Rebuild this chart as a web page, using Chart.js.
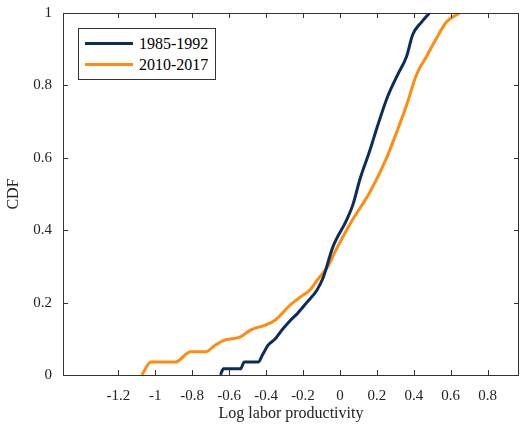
<!DOCTYPE html>
<html><head><meta charset="utf-8">
<script src="https://cdn.jsdelivr.net/npm/chart.js@4"></script>
<style>
body{margin:0;background:#fff}
#wrap{position:relative;width:520px;height:427px}
#legend{position:absolute;left:78px;top:28px;width:138px;height:52px;border:1px solid #333;background:#fff;font-family:"Liberation Serif",serif;font-size:16px;box-sizing:border-box;padding:4px 0 0 6px}
#legend div{display:flex;align-items:center;height:21px}
#legend span{display:inline-block;width:48px;height:3px;margin-right:6px}
</style></head>
<body><div id="wrap"><canvas id="c" width="520" height="427"></canvas>
<div id="legend"><div><span style="background:#0b2d5e"></span>1985-1992</div><div><span style="background:#ff8c0f"></span>2010-2017</div></div></div>
<script>
const oldX = [-0.647,-0.631,-0.539,-0.518,-0.442,-0.42,-0.388,-0.35,-0.313,-0.27,-0.23,-0.18,-0.124,-0.09,-0.038,0.038,0.07,0.108,0.162,0.205,0.259,0.313,0.361,0.394,0.442,0.485];
const oldY = [0,0.017,0.017,0.036,0.036,0.055,0.083,0.10,0.125,0.15,0.17,0.2,0.235,0.27,0.354,0.43,0.47,0.54,0.62,0.69,0.77,0.83,0.88,0.94,0.975,1.0];
const newX = [-1.073,-1.024,-0.89,-0.809,-0.728,-0.674,-0.62,-0.539,-0.485,-0.404,-0.35,-0.27,-0.216,-0.162,-0.119,-0.065,-0.027,0.07,0.162,0.253,0.307,0.361,0.415,0.469,0.523,0.577,0.647];
const newY = [0,0.036,0.036,0.064,0.064,0.083,0.097,0.105,0.124,0.138,0.152,0.193,0.215,0.235,0.265,0.30,0.34,0.43,0.505,0.60,0.67,0.745,0.83,0.88,0.93,0.975,1.0];
const xTicks = [-1.2,-1,-0.8,-0.6,-0.4,-0.2,0,0.2,0.4,0.6,0.8];
const yTicks = [0,0.2,0.4,0.6,0.8,1];

const font = {family:'"Liberation Serif", serif', size:15};
const frame = {
  id:'frame',
  afterDraw(chart){
    const {ctx, chartArea:a, scales:{x,y}} = chart;
    ctx.save();
    ctx.strokeStyle = '#333'; ctx.lineWidth = 1;
    ctx.strokeRect(a.left+0.5, a.top+0.5, a.right-a.left-1, a.bottom-a.top);
    ctx.beginPath();
    xTicks.forEach(v => { const p = Math.round(x.getPixelForValue(v))+0.5;
      ctx.moveTo(p,a.bottom); ctx.lineTo(p,a.bottom-5); ctx.moveTo(p,a.top); ctx.lineTo(p,a.top+5); });
    yTicks.forEach(v => { const p = Math.round(y.getPixelForValue(v))+0.5;
      ctx.moveTo(a.left,p); ctx.lineTo(a.left+5,p); ctx.moveTo(a.right,p); ctx.lineTo(a.right-5,p); });
    ctx.stroke(); ctx.restore();
  }
};
new Chart(document.getElementById('c'), {
  type:'scatter',
  data:{datasets:[
    {label:'1985-1992', data:oldX.map((v,i)=>({x:v,y:oldY[i]})), showLine:true, borderColor:'#0b2d5e', borderWidth:3, pointRadius:0, cubicInterpolationMode:'monotone'},
    {label:'2010-2017', data:newX.map((v,i)=>({x:v,y:newY[i]})), showLine:true, borderColor:'#ff8c0f', borderWidth:3, pointRadius:0, cubicInterpolationMode:'monotone'}
  ]},
  options:{
    responsive:false, animation:false,
    layout:{padding:{top:13,right:1,left:0,bottom:0}},
    plugins:{legend:{display:false}, tooltip:{enabled:false}},
    scales:{
      x:{min:-1.5,max:0.97, afterBuildTicks:s=>{s.ticks=xTicks.map(v=>({value:v}));},
        afterFit:s=>{s.height=52;},
        ticks:{color:'#222',font, maxRotation:0, padding:4, callback:v=>String(Math.round(v*10)/10)},
        grid:{display:false}, border:{display:false},
        title:{display:true,text:'Log labor productivity',color:'#222',font:{...font,size:16},padding:{top:4}}},
      y:{min:0,max:1, afterBuildTicks:s=>{s.ticks=yTicks.map(v=>({value:v}));},
        afterFit:s=>{s.width=63;},
        ticks:{color:'#222',font, callback:v=>String(Math.round(v*10)/10)},
        grid:{display:false}, border:{display:false},
        title:{display:true,text:'CDF',color:'#222',font:{...font,size:16}}}
    }
  },
  plugins:[frame]
});
</script></body></html>
